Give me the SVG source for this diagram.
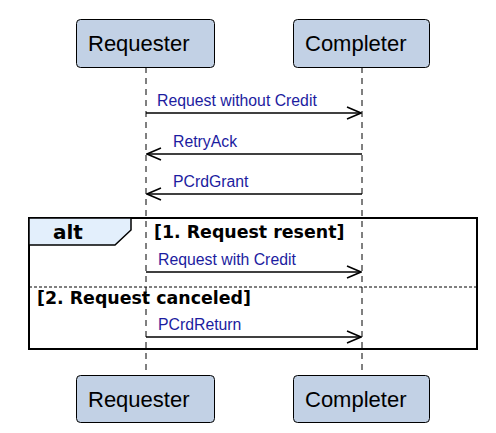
<svg xmlns="http://www.w3.org/2000/svg" width="496" height="433" viewBox="0 0 496 433">
<style>
.box{fill:#c2d1e5;stroke:#000;stroke-width:1}
.pt{font-family:"Liberation Sans",Arial,sans-serif;font-size:22px;fill:#000}
.life{stroke:#000;stroke-width:1;stroke-dasharray:6,5}
.msg{stroke:#000;stroke-width:1.5;fill:none}
.ml{font-family:"Liberation Sans",Arial,sans-serif;font-size:15.8px;fill:#1c1ca0}
.cond{font-family:"DejaVu Sans",sans-serif;font-weight:bold;font-size:17.4px;fill:#000}
</style>
<defs>
<marker id="ah" viewBox="0 0 16 14" refX="15" refY="7" markerWidth="16" markerHeight="14" markerUnits="userSpaceOnUse" orient="auto">
<path d="M1,1 L15,7 L1,13" fill="none" stroke="#000" stroke-width="1.5"/>
</marker>
</defs>
<rect width="496" height="433" fill="#fff"/>
<g id="lifelines">
<line class="life" x1="146" y1="67" x2="146" y2="375"/>
<line class="life" x1="362" y1="67" x2="362" y2="375"/>
</g>
<g id="requester-top"><rect class="box" x="76.5" y="19.5" width="138" height="48" rx="4"/><text class="pt" x="88" y="51">Requester</text></g>
<g id="completer-top"><rect class="box" x="293.5" y="19.5" width="136" height="48" rx="4"/><text class="pt" x="305" y="51">Completer</text></g>
<g id="requester-bottom"><rect class="box" x="76.5" y="375.5" width="138" height="47" rx="4"/><text class="pt" x="88" y="407">Requester</text></g>
<g id="completer-bottom"><rect class="box" x="293.5" y="375.5" width="136" height="47" rx="4"/><text class="pt" x="305" y="407">Completer</text></g>
<g id="alt-frame">
<rect x="29" y="218" width="448" height="131" fill="none" stroke="#000" stroke-width="2"/>
<path d="M29,218 L131,218 L131,230 L115,245 L29,245 Z" fill="#e3effc" stroke="#000" stroke-width="1.5"/>
<text x="53" y="239" font-family="DejaVu Sans,sans-serif" font-weight="bold" font-size="20" fill="#000">alt</text>
<text class="cond" x="154" y="238">[1. Request resent]</text>
<line x1="29" y1="287" x2="477" y2="287" stroke="#000" stroke-width="1" stroke-dasharray="3,2"/>
<text class="cond" x="37" y="304">[2. Request canceled]</text>
</g>
<g id="connectors">
<line class="msg" x1="146" y1="113" x2="361" y2="113" marker-end="url(#ah)"/>
<text class="ml" x="157" y="106">Request without Credit</text>
<line class="msg" x1="362" y1="154" x2="147" y2="154" marker-end="url(#ah)"/>
<text class="ml" x="173" y="147">RetryAck</text>
<line class="msg" x1="362" y1="194" x2="147" y2="194" marker-end="url(#ah)"/>
<text class="ml" x="173" y="187">PCrdGrant</text>
<line class="msg" x1="146" y1="272" x2="361" y2="272" marker-end="url(#ah)"/>
<text class="ml" x="158" y="265">Request with Credit</text>
<line class="msg" x1="146" y1="337" x2="361" y2="337" marker-end="url(#ah)"/>
<text class="ml" x="158" y="330">PCrdReturn</text>
</g>
</svg>
